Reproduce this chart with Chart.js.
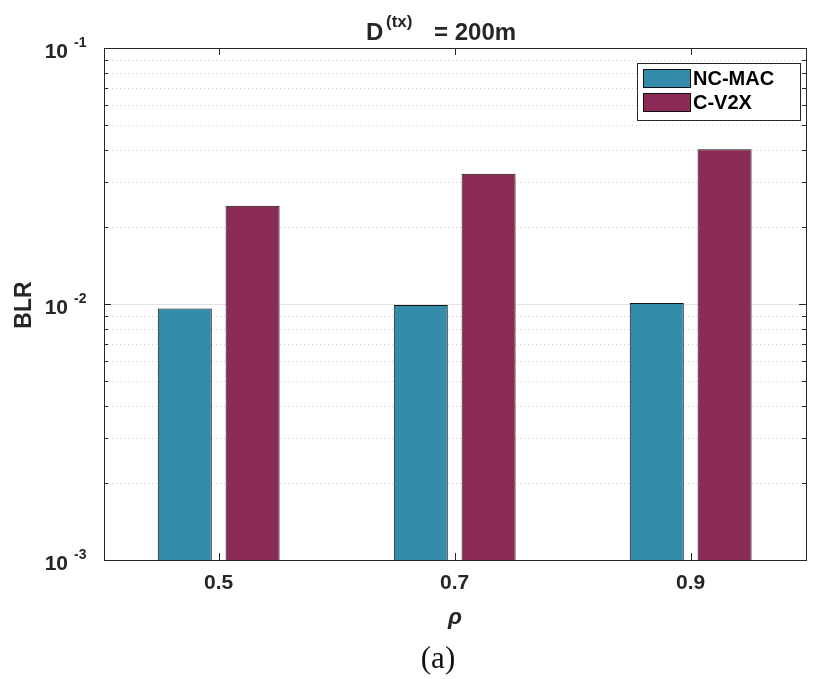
<!DOCTYPE html>
<html>
<head>
<meta charset="utf-8">
<script src="https://cdn.jsdelivr.net/npm/chart.js@4/dist/chart.umd.min.js"></script>
<style>
  html, body { margin: 0; padding: 0; background: #ffffff; }
  #wrap { width: 814px; height: 679px; }
</style>
</head>
<body>
<div id="wrap"><canvas id="c" width="814" height="679"></canvas></div>
<script>
// Load factor values and block loss ratio per protocol
const rhoLabels = ['0.5', '0.7', '0.9'];
const ncMac = [0.0096, 0.0099, 0.0101];
const cV2x = [0.0242, 0.0323, 0.0402];
const seriesNames = ['NC-MAC', 'C-V2X'];
const yDecades = [-3, -2, -1];

const TEXT = '#262626';
const FONT = '"Liberation Sans", Arial, Helvetica, sans-serif';
const colors = ['#328CAA', '#8C2B55'];

const toPoints = arr => arr.map((v, i) => ({ x: i + 1, y: v }));

// Axes decorations: grid, frame, ticks, labels, title and legend
const decor = {
  id: 'decor',
  beforeDatasetsDraw(chart) {
    const { ctx, chartArea: a, scales: { y } } = chart;
    ctx.save();
    ctx.lineWidth = 1;
    for (let e = yDecades[0]; e < yDecades[yDecades.length - 1]; e++) {
      for (let k = 1; k <= 9; k++) {
        const v = k * Math.pow(10, e);
        const py = Math.round(y.getPixelForValue(v)) + 0.5;
        if (py <= a.top + 1 || py >= a.bottom - 1) continue;
        ctx.beginPath();
        if (k === 1) { ctx.setLineDash([]); ctx.strokeStyle = '#e3e3e3'; }
        else { ctx.setLineDash([1, 3]); ctx.strokeStyle = '#cfcfcf'; }
        ctx.moveTo(a.left, py);
        ctx.lineTo(a.right, py);
        ctx.stroke();
      }
    }
    ctx.restore();
  },
  afterDatasetsDraw(chart) {
    const { ctx, chartArea: a, scales: { x, y } } = chart;
    ctx.save();
    ctx.lineWidth = 1;
    ctx.strokeStyle = TEXT;
    // y ticks on both sides
    for (let e = yDecades[0]; e < yDecades[yDecades.length - 1]; e++) {
      for (let k = 1; k <= 9; k++) {
        const v = k * Math.pow(10, e);
        const py = Math.round(y.getPixelForValue(v)) + 0.5;
        const len = k === 1 ? 7 : 4;
        ctx.beginPath();
        ctx.moveTo(a.left, py); ctx.lineTo(a.left + len, py);
        ctx.moveTo(a.right, py); ctx.lineTo(a.right - len, py);
        ctx.stroke();
      }
    }
    // x ticks on top and bottom
    rhoLabels.forEach((_, i) => {
      const px = Math.round(x.getPixelForValue(i + 1)) + 0.5;
      ctx.beginPath();
      ctx.moveTo(px, a.top); ctx.lineTo(px, a.top + 7);
      ctx.moveTo(px, a.bottom); ctx.lineTo(px, a.bottom - 7);
      ctx.stroke();
    });
    // frame
    ctx.strokeRect(Math.round(a.left) + 0.5, Math.round(a.top) + 0.5,
      Math.round(a.right - a.left), Math.round(a.bottom - a.top));
    ctx.restore();
  },
  afterDraw(chart) {
    const { ctx, chartArea: a, scales: { x, y } } = chart;
    ctx.save();
    ctx.fillStyle = TEXT;

    // y tick labels 10^e
    yDecades.forEach(e => {
      const py = y.getPixelForValue(Math.pow(10, e));
      ctx.font = 'bold 21px ' + FONT;
      ctx.textAlign = 'right';
      ctx.textBaseline = 'middle';
      ctx.fillText('10', 68, py + 4);
      ctx.font = 'bold 14px ' + FONT;
      ctx.textAlign = 'left';
      ctx.fillText(String(e), 74, py - 5);
    });

    // x tick labels
    ctx.font = 'bold 21px ' + FONT;
    ctx.textAlign = 'center';
    ctx.textBaseline = 'middle';
    rhoLabels.forEach((lab, i) => {
      ctx.fillText(lab, x.getPixelForValue(i + 1), a.bottom + 23);
    });

    // axis titles
    ctx.font = 'italic bold 23px ' + FONT;
    ctx.fillText('\u03C1', 455, 618);
    ctx.save();
    ctx.translate(25, 305);
    ctx.rotate(-Math.PI / 2);
    ctx.font = 'bold 23px ' + FONT;
    ctx.fillText('BLR', 0, 0);
    ctx.restore();

    // caption
    ctx.fillStyle = '#111111';
    ctx.font = '31px "Liberation Serif", "Times New Roman", serif';
    ctx.fillText('(a)', 438, 660);

    // title
    ctx.fillStyle = TEXT;
    ctx.textAlign = 'left';
    ctx.textBaseline = 'alphabetic';
    ctx.font = 'bold 24px ' + FONT;
    ctx.fillText('D', 366, 40);
    ctx.font = 'bold 17px ' + FONT;
    ctx.fillText('(tx)', 386, 27);
    ctx.font = 'bold 24px ' + FONT;
    ctx.fillText('= 200m', 434, 40);

    // legend
    const lx = 637, ly = 63, lw = 163, lh = 57;
    ctx.fillStyle = '#ffffff';
    ctx.fillRect(lx, ly, lw, lh);
    ctx.strokeStyle = TEXT;
    ctx.lineWidth = 1;
    ctx.strokeRect(lx + 0.5, ly + 0.5, lw, lh);
    seriesNames.forEach((name, i) => {
      const ry = 69 + i * 24;
      ctx.fillStyle = colors[i];
      ctx.fillRect(643, ry, 47, 18);
      ctx.strokeStyle = '#111111';
      ctx.strokeRect(643.5, ry + 0.5, 47, 18);
      ctx.fillStyle = '#000000';
      ctx.font = 'bold 20px ' + FONT;
      ctx.textBaseline = 'middle';
      ctx.fillText(name, 693, ry + 10);
    });
    ctx.restore();
  }
};

new Chart(document.getElementById('c'), {
  type: 'bar',
  data: {
    datasets: [
      { label: seriesNames[0], data: toPoints(ncMac), backgroundColor: colors[0],
        borderColor: '#111111', borderWidth: 1 },
      { label: seriesNames[1], data: toPoints(cV2x), backgroundColor: colors[1],
        borderColor: '#111111', borderWidth: 1 }
    ]
  },
  options: {
    responsive: false,
    animation: false,
    devicePixelRatio: 1,
    layout: { padding: { left: 104, top: 48, right: 8, bottom: 119 } },
    categoryPercentage: 0.5746,
    barPercentage: 0.7965,
    scales: {
      x: {
        type: 'linear', min: 0.514, max: 3.4886, display: false, offset: false,
        afterBuildTicks(scale) {
          scale.ticks = rhoLabels.map((_, i) => ({ value: i + 1 }));
        }
      },
      y: { type: 'logarithmic', min: 0.001, max: 0.1, display: false }
    },
    plugins: { legend: { display: false }, tooltip: { enabled: false }, title: { display: false } }
  },
  plugins: [decor]
});
</script>
</body>
</html>
